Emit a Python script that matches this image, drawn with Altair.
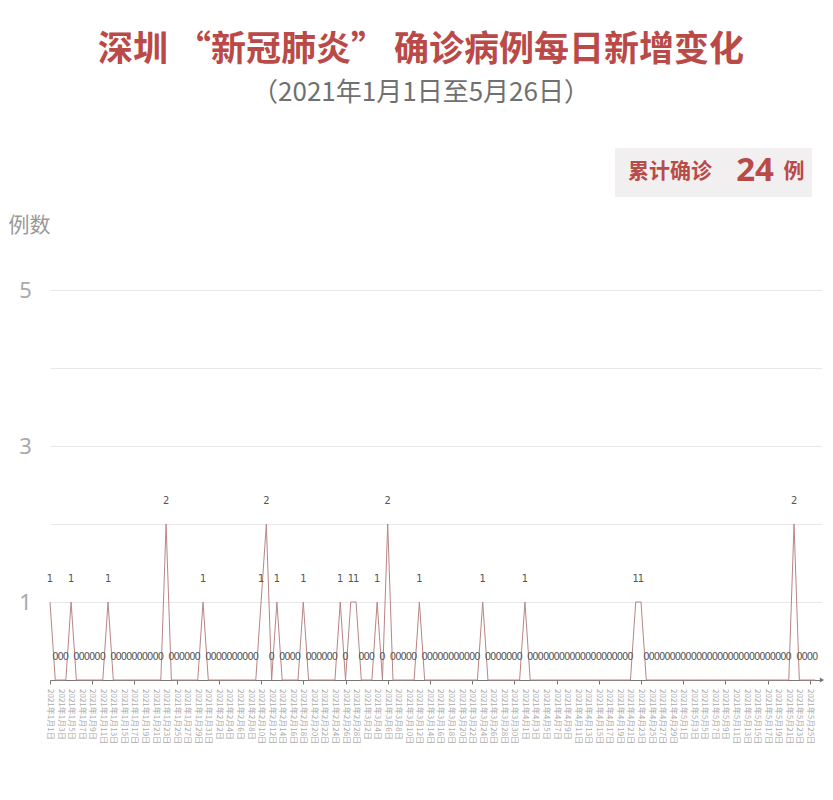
import altair as alt
import pandas as pd

# ---- data ----
dates = pd.date_range("2021-01-01", "2021-05-26", freq="D")
date_labels = [f"2021年{d.month}月{d.day}日" for d in dates]

cases = [
    1, 0, 0, 0, 1, 0, 0, 0, 0, 0,   # Jan 1-10
    0, 1, 0, 0, 0, 0, 0, 0, 0, 0,
    0, 0, 2, 0, 0, 0, 0, 0, 0, 1,
    0, 0, 0, 0, 0, 0, 0, 0, 0, 0,
    1, 2, 0, 1, 0, 0, 0, 0, 1, 0,
    0, 0, 0, 0, 0, 1, 0, 1, 1, 0,
    0, 0, 1, 0, 2, 0, 0, 0, 0, 0,
    1, 0, 0, 0, 0, 0, 0, 0, 0, 0,
    0, 0, 1, 0, 0, 0, 0, 0, 0, 0,
    1, 0, 0, 0, 0, 0, 0, 0, 0, 0,
    0, 0, 0, 0, 0, 0, 0, 0, 0, 0,
    0, 1, 1, 0, 0, 0, 0, 0, 0, 0,
    0, 0, 0, 0, 0, 0, 0, 0, 0, 0,
    0, 0, 0, 0, 0, 0, 0, 0, 0, 0,
    0, 2, 0, 0, 0, 0,
]
y_ticks = [1, 2, 3, 4, 5]

days = list(range(len(cases)))
shown_labels = [lab if i % 2 == 0 else "" for i, lab in zip(days, date_labels)]
df = pd.DataFrame({"day": days, "cases": cases, "date": shown_labels})
total_df = pd.DataFrame({"total": [int(sum(cases))]})

FONT = "Noto Sans CJK SC"
RED = "#b94a48"

W, H = 772, 390

x = alt.X(
    "day:Q",
    scale=alt.Scale(domain=[0, 146.3], nice=False, zero=False),
    axis=alt.Axis(
        values=days,
        labels=False,
        tickSize=4,
        tickColor="#777777",
        domainColor="#777777",
        grid=False,
        title=None,
    ),
)
y = alt.Y(
    "cases:Q",
    scale=alt.Scale(domain=[0, 5], nice=False),
    axis=alt.Axis(
        values=y_ticks,
        format="d",
        labelExpr="datum.value % 2 == 1 ? datum.label : ''",
        grid=True,
        gridColor="#e8e8e8",
        domain=False,
        ticks=False,
        tickSize=0,
        labelPadding=25,
        labelAlign="center",
        labelBaseline="middle",
        labelFontSize=22,
        labelColor="#aaaaaa",
        labelFont="Noto Sans",
        title="例数",
        titleAngle=0,
        titleAlign="left",
        titleBaseline="middle",
        titleX=-42,
        titleY=-65,
        titleFontSize=21,
        titleColor="#999999",
        titleFontWeight="normal",
        titleFont=FONT,
    ),
)

base = alt.Chart(df)
line = base.mark_line(color="#b98585", strokeWidth=1).encode(x=x, y=y)
labels = base.mark_text(
    dy=-23, fontSize=11, color="#555555", font="DejaVu Sans Condensed, Liberation Sans Narrow, sans-serif",
    baseline="middle",
).encode(x="day:Q", y="cases:Q", text="cases:Q")

date_text = base.mark_text(
    angle=90, align="left", baseline="middle", fontSize=8, color="#aaaaaa", font=FONT
).encode(x="day:Q", y=alt.value(H + 9), text="date:N")

arrow = alt.Chart(total_df).mark_point(
    shape="triangle-right", filled=True, size=25, color="#777777", opacity=1
).encode(x=alt.value(W), y=alt.value(H))

box = alt.Chart(total_df).mark_rect(color="#f1efef").encode(
    x=alt.value(565), x2=alt.value(762), y=alt.value(-142), y2=alt.value(-93)
)
box_t1 = alt.Chart(total_df).mark_text(
    text="累计确诊", align="left", baseline="middle", fontSize=21, fontWeight="bold", color=RED, font=FONT
).encode(x=alt.value(578), y=alt.value(-118))
box_t2 = alt.Chart(total_df).mark_text(
    align="center", baseline="middle", fontSize=33, fontWeight="bold", color=RED, font="Noto Sans"
).encode(x=alt.value(705), y=alt.value(-119), text="total:Q")
box_t3 = alt.Chart(total_df).mark_text(
    text="例", align="center", baseline="middle", fontSize=21, fontWeight="bold", color=RED, font=FONT
).encode(x=alt.value(744), y=alt.value(-118))

chart = alt.layer(line, labels, date_text, arrow, box, box_t1, box_t2, box_t3).properties(
    width=W,
    height=H,
    title=alt.TitleParams(
        text="深圳 “新冠肺炎” 确诊病例每日新增变化",
        subtitle="（2021年1月1日至5月26日）",
        fontSize=35,
        fontWeight="bold",
        color=RED,
        font=FONT,
        subtitleFont=FONT,
        subtitleFontSize=26,
        subtitleColor="#707070",
        anchor="middle",
        frame="group",
        offset=42,
        subtitlePadding=12,
        dx=-15,
    ),
    autosize=alt.AutoSizeParams(type="none"),
    padding={"left": 42, "top": 282, "right": 3, "bottom": 110},
).configure(background="white").configure_view(stroke=None)

chart.save("out.html", embed_options={"renderer": "svg", "actions": False})
